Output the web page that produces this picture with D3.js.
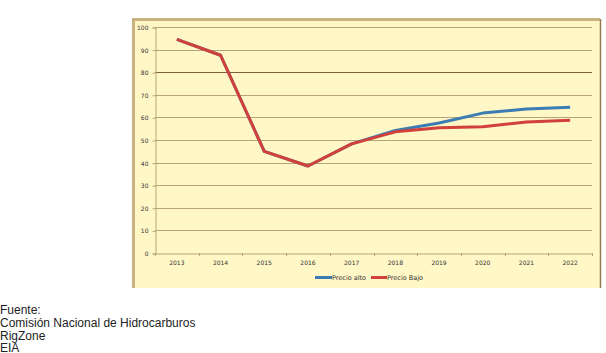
<!DOCTYPE html>
<html><head><meta charset="utf-8">
<script src="https://cdn.jsdelivr.net/npm/d3@7"></script>
<style>
html,body{margin:0;padding:0;background:#fff;}
svg{display:block;}
</style></head>
<body>
<svg id="c" width="606" height="353"></svg>
<script>
const years = ["2013","2014","2015","2016","2017","2018","2019","2020","2021","2022"];
const precioAlto = [94.5, 87.5, 45, 38.5, 48.3, 54.2, 57.5, 61.9, 63.7, 64.5];
const precioBajo = [94.5, 87.5, 45, 38.5, 48.3, 53.6, 55.4, 55.9, 58.0, 58.7];
const yTicks = [0,10,20,30,40,50,60,70,80,90,100];
const sourceLines = ["Fuente:", "Comisión Nacional de Hidrocarburos", "RigZone", "EIA"];

const svg = d3.select("#c");
// chart box
svg.append("rect").attr("x",133).attr("y",19).attr("width",467).attr("height",269)
  .attr("fill","#fff7c6");
svg.append("path").attr("d","M133.5,288 V19.5 H600").attr("fill","none").attr("stroke","#c8b27e").attr("stroke-width",3);
svg.append("path").attr("d","M600.5,19 V288").attr("fill","none").attr("stroke","#957a55").attr("stroke-width",1.5);

const L=155, R=592, T=27, B=253;
const x = d3.scaleBand().domain(years).range([L,R]);
const y = d3.scaleLinear().domain([0,100]).range([B,T]);

// gridlines
svg.append("g").selectAll("line").data(yTicks.filter(d=>d>0)).join("line")
  .attr("x1",L).attr("x2",R).attr("y1",d=>Math.round(y(d))+0.5).attr("y2",d=>Math.round(y(d))+0.5)
  .attr("stroke",d=>d===80?"#7d5e3c":"#b9a47a").attr("stroke-width",1);

// y axis
const ya = svg.append("g").attr("transform",`translate(${L+0.5},0.5)`)
  .call(d3.axisLeft(y).tickValues(yTicks).tickSize(3).tickPadding(4));
ya.select(".domain").attr("stroke","#b9a47a");
ya.selectAll(".tick line").attr("stroke","#b9a47a");
ya.selectAll("text").attr("font-family","DejaVu Sans").attr("font-size","6px").attr("fill","#333");

// x axis
const xa = svg.append("g").attr("transform",`translate(0,${B+0.5})`)
  .call(d3.axisBottom(x).tickSize(0).tickPadding(7));
xa.select(".domain").attr("stroke","#b9a47a");
xa.selectAll("text").attr("font-family","DejaVu Sans").attr("font-size","6px").attr("fill","#333");
svg.append("g").selectAll("line").data(years.concat(["end"])).join("line")
  .attr("x1",(d,i)=>Math.round(L+i*x.step())+0.5).attr("x2",(d,i)=>Math.round(L+i*x.step())+0.5)
  .attr("y1",B).attr("y2",B+3).attr("stroke","#b9a47a");

const line = d3.line().x((d,i)=>x(years[i])+x.bandwidth()/2).y(d=>y(d));
svg.append("path").datum(precioAlto).attr("d",line).attr("fill","none")
  .attr("stroke","#3b7db2").attr("stroke-width",3).attr("stroke-linejoin","round");
svg.append("path").datum(precioBajo).attr("d",line).attr("fill","none")
  .attr("stroke","#d2403a").attr("stroke-width",3).attr("stroke-linejoin","round");

// legend
const leg = svg.append("g").attr("font-family","DejaVu Sans").attr("font-size","6.5px").attr("fill","#333");
leg.append("line").attr("x1",315).attr("x2",332).attr("y1",277.5).attr("y2",277.5).attr("stroke","#3b7db2").attr("stroke-width",3);
leg.append("text").attr("x",332).attr("y",280).text("Precio alto");
leg.append("line").attr("x1",371).attr("x2",387).attr("y1",277.5).attr("y2",277.5).attr("stroke","#d2403a").attr("stroke-width",3);
leg.append("text").attr("x",387).attr("y",280).text("Precio Bajo");

// source
svg.append("g").selectAll("text").data(sourceLines).join("text")
  .attr("x",0).attr("y",(d,i)=>314+i*12.8)
  .attr("font-family","Liberation Sans, Arial").attr("font-size","12px").attr("fill","#222")
  .text(d=>d);
</script>
</body></html>
